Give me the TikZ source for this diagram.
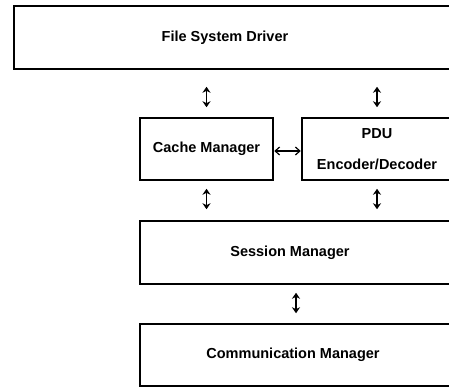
\documentclass[tikz,border=0pt]{standalone}
\usepackage{fontspec}
\setmainfont{Liberation Sans}
\usetikzlibrary{arrows.meta,positioning}

\begin{document}
\begin{tikzpicture}[
x=1pt, y=-1pt,
box/.style={draw, line width=1.5pt, align=center, inner sep=0pt, minimum height=62pt,
  font=\bfseries\fontsize{14.5}{17}\selectfont},
lbl/.style={font=\bfseries\fontsize{14.5}{17}\selectfont},
arrow/.style={{Stealth[length=6pt,width=8pt]}-{Stealth[length=6pt,width=8pt]}, line width=1.3pt},
harrow/.style={{Straight Barb[length=4.5pt,width=8pt]}-{Straight Barb[length=4.5pt,width=8pt]}, line width=1.2pt}
]
\useasboundingbox (0,0) rectangle (449,388);
\clip (0,0) rectangle (449,388);

\node[box, minimum width=446pt, minimum height=63pt] (fsd) at (237,37.5) {};
\node[lbl] (fsdtext) at (225,38) {File System Driver};
\node[box, minimum width=133pt] (cache) at (206.5,149) {Cache Manager};
\node[box, minimum width=150pt] (pdu) at (377,149) {PDU\\[14pt]Encoder/Decoder};
\node[box, minimum width=320pt, minimum height=63pt] (sm) at (300,252.5) {};
\node[lbl] (smtext) at (290,253) {Session Manager};
\node[box, minimum width=320pt] (cm) at (300,355) {};
\node[lbl] (cmtext) at (293,355) {Communication Manager};

\draw[arrow, shorten <=17pt, shorten >=10pt] (fsd.south -| cache.north) -- (cache.north);
\draw[arrow, shorten <=17pt, shorten >=10pt] (fsd.south -| pdu.north) -- (pdu.north);
\draw[harrow, shorten <=0.5pt, shorten >=0.5pt] ([yshift=-2pt]cache.east) -- ([yshift=-2pt]pdu.west);
\draw[arrow, shorten <=8pt, shorten >=11pt] (cache.south) -- (cache.south |- sm.north);
\draw[arrow, shorten <=8pt, shorten >=11pt] (pdu.south) -- (pdu.south |- sm.north);
\draw[arrow, shorten <=8pt, shorten >=10pt] ([xshift=-4pt]sm.south) -- ([xshift=-4pt]sm.south |- cm.north);
\end{tikzpicture}
\end{document}
